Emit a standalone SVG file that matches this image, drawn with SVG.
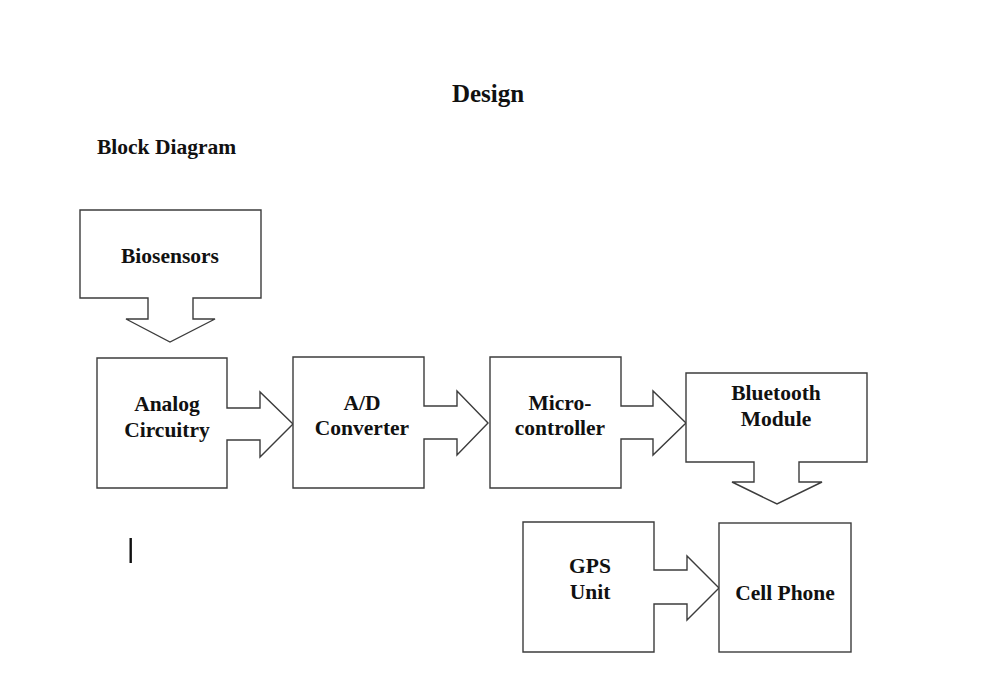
<svg xmlns="http://www.w3.org/2000/svg" width="1000" height="690" viewBox="0 0 1000 690">
<style>
.shape{fill:#fff;stroke:#3c3c3c;stroke-width:1.4;stroke-linejoin:miter}
.t{font-family:"Liberation Serif","Times New Roman",serif;font-weight:bold;font-size:21.5px;fill:#111;text-anchor:middle}
.h{font-family:"Liberation Serif","Times New Roman",serif;font-weight:bold;fill:#111}
</style>
<rect width="1000" height="690" fill="#fff"/>
<text class="h" x="488" y="102" font-size="25" text-anchor="middle">Design</text>
<text class="h" x="97" y="154" font-size="21.5">Block Diagram</text>
<g id="connectors"></g>
<g id="biosensors">
<path class="shape" d="M80,210 H261 V298 H193 V319 H215 L170,342 L126,319 H148 V298 H80 Z"/>
<text class="t" x="170" y="263">Biosensors</text>
</g>
<g id="analog">
<path class="shape" d="M97,358 H227 V408 H260 V392 L293,424 L260,457 V440 H227 V488 H97 Z"/>
<text class="t" x="167" y="411">Analog</text>
<text class="t" x="167" y="437">Circuitry</text>
</g>
<g id="adc">
<path class="shape" d="M293,357 H424 V406 H457 V391 L488,423 L457,455 V439 H424 V488 H293 Z"/>
<text class="t" x="362" y="410">A/D</text>
<text class="t" x="362" y="435">Converter</text>
</g>
<g id="micro">
<path class="shape" d="M490,357 H621 V406 H653 V391 L686,423 L653,455 V439 H621 V488 H490 Z"/>
<text class="t" x="560" y="410">Micro-</text>
<text class="t" x="560" y="435">controller</text>
</g>
<g id="bluetooth">
<path class="shape" d="M686,373 H867 V462 H799 V482 H822 L777,504 L732,482 H754 V462 H686 Z"/>
<text class="t" x="776" y="400">Bluetooth</text>
<text class="t" x="776" y="426">Module</text>
</g>
<g id="gps">
<path class="shape" d="M523,522 H654 V570 H687 V556 L719,588 L687,620 V604 H654 V652 H523 Z"/>
<text class="t" x="590" y="573">GPS</text>
<text class="t" x="590" y="599">Unit</text>
</g>
<g id="cellphone">
<rect class="shape" x="719" y="523" width="132" height="129"/>
<text class="t" x="785" y="600">Cell Phone</text>
</g>
<line x1="130.7" y1="538" x2="130.7" y2="563" stroke="#111" stroke-width="2.4"/>
</svg>
